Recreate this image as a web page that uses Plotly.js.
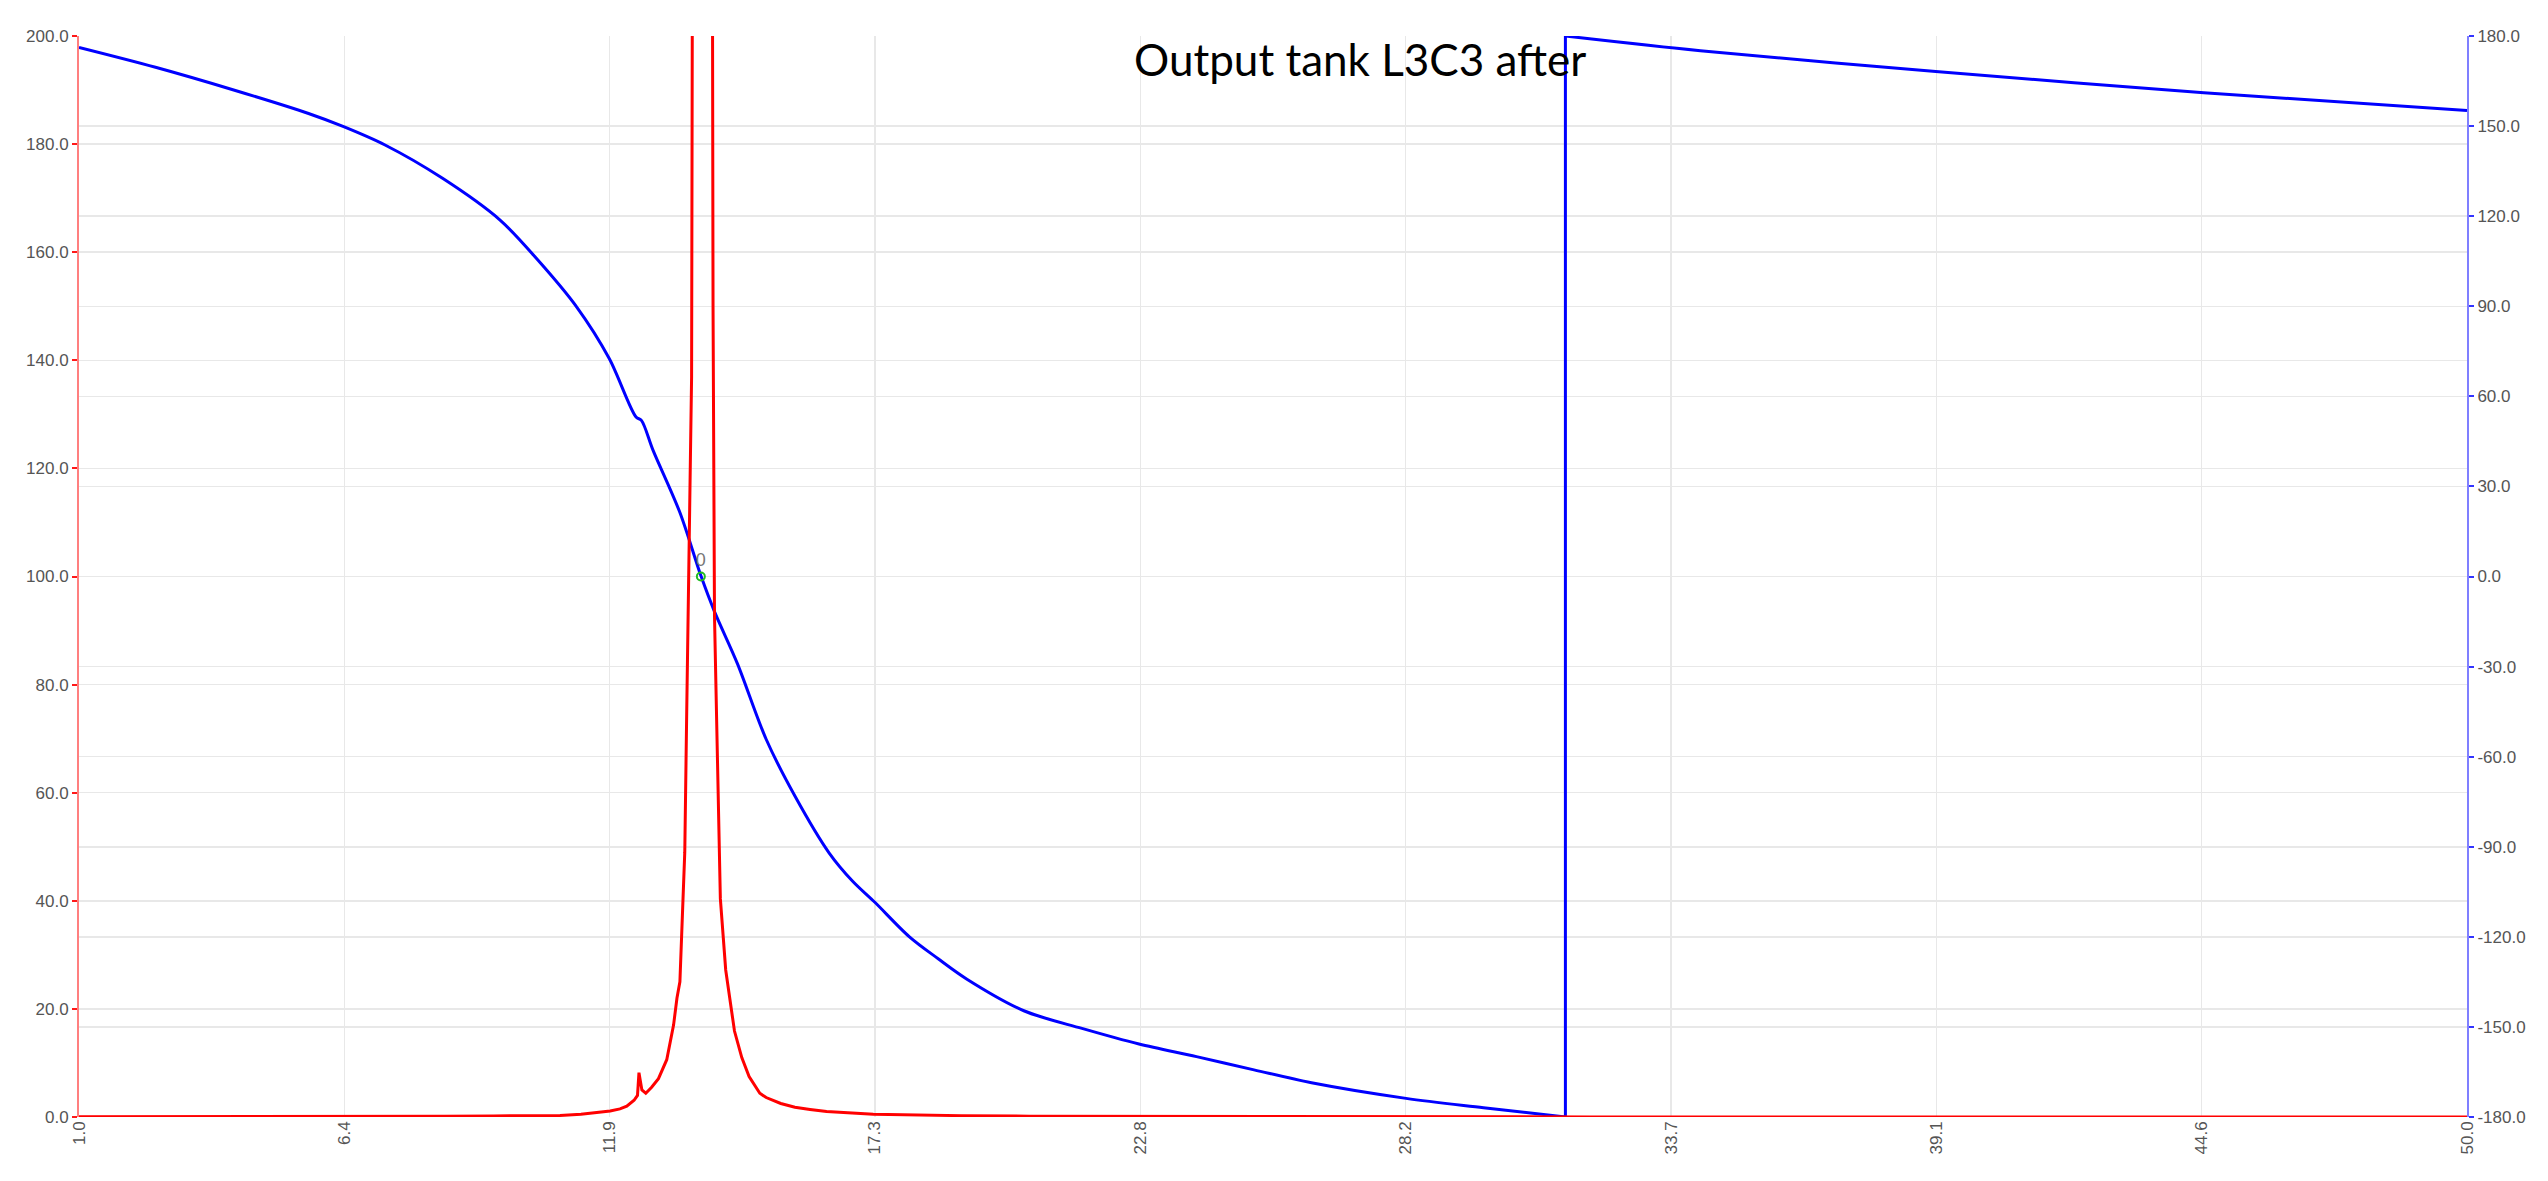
<!DOCTYPE html>
<html>
<head>
<meta charset="utf-8">
<script src="https://cdn.plot.ly/plotly-3.0.1.min.js"></script>
<style>html,body{margin:0;padding:0;background:#fff;}#chart{width:2548px;height:1181px;}</style>
</head>
<body>
<div id="chart"></div>
<script>
// Frequency axis (x)
const xTickVals = [1.0, 6.444, 11.889, 17.333, 22.778, 28.222, 33.667, 39.111, 44.556, 50.0];
const xTickText = ['1.0', '6.4', '11.9', '17.3', '22.8', '28.2', '33.7', '39.1', '44.6', '50.0'];

// Left axis (magnitude) ticks
const magTickVals = [0, 20, 40, 60, 80, 100, 120, 140, 160, 180, 200];
const magTickText = ['0.0', '20.0', '40.0', '60.0', '80.0', '100.0', '120.0', '140.0', '160.0', '180.0', '200.0'];

// Right axis (phase) ticks
const phaseTickVals = [-180, -150, -120, -90, -60, -30, 0, 30, 60, 90, 120, 150, 180];
const phaseTickText = ['-180.0', '-150.0', '-120.0', '-90.0', '-60.0', '-30.0', '0.0', '30.0', '60.0', '90.0', '120.0', '150.0', '180.0'];

// Magnitude series (red, left axis)
const magX = [1.0, 3.0, 5.0, 7.0, 8.5, 9.5, 10.3, 10.87, 11.3, 11.69, 11.9, 12.1, 12.24, 12.39, 12.46, 12.49, 12.55, 12.63, 12.75, 12.89, 13.06, 13.2, 13.27, 13.33, 13.39, 13.43, 13.47, 13.51, 13.54, 13.57, 13.8, 14.01, 14.04, 14.11, 14.16, 14.27, 14.45, 14.6, 14.75, 14.97, 15.1, 15.4, 15.69, 16.0, 16.34, 17.3, 18.2, 19.1, 20.5, 22.8, 25.0, 28.0, 32.0, 38.0, 44.0, 50.0];
const magY = [0.05, 0.05, 0.08, 0.1, 0.15, 0.2, 0.3, 0.3, 0.5, 0.9, 1.1, 1.5, 2.0, 3.1, 4.0, 8.2, 5.0, 4.4, 5.5, 7.1, 10.6, 17.0, 22.0, 25.0, 38.6, 49.0, 75.0, 101.0, 123.0, 137.0, 1200.0, 150.0, 92.6, 57.8, 40.4, 27.2, 15.9, 11.0, 7.5, 4.4, 3.6, 2.5, 1.8, 1.4, 1.0, 0.5, 0.35, 0.25, 0.15, 0.1, 0.05, 0.03, 0.02, 0.01, 0.01, 0.01];

// Phase series (blue, right axis) — wraps from -180 to +180 at x = 31.5
const phaseX = [1.0, 2.57, 4.14, 5.71, 6.43, 7.28, 8.46, 9.64, 10.42, 11.21, 11.88, 12.43, 12.54, 12.78, 13.33, 13.76, 14.04, 14.51, 15.10, 15.69, 16.39, 16.87, 17.33, 18.04, 18.63, 19.22, 20.40, 21.58, 22.75, 23.93, 25.11, 26.29, 28.23, 29.82, 31.5, 31.5, 34.27, 39.1, 44.6, 50.0];
const phaseY = [176.2, 169.6, 162.2, 154.2, 149.8, 143.7, 132.6, 118.7, 105.3, 89.8, 72.6, 53.1, 52.0, 42.0, 21.3, 0.3, -11.7, -29.0, -54.2, -73.1, -92.0, -101.4, -108.5, -120.0, -127.3, -134.1, -144.7, -150.5, -155.7, -159.9, -164.3, -168.6, -173.8, -176.9, -180.0, 180.0, 175.1, 168.2, 161.1, 155.2];

// Zero-phase marker
const markerX = [13.76];
const markerY = [0];
const markerLabel = ['0'];

const titleText = 'Output tank L3C3 after';

// split phase at the wrap (where consecutive x values are equal)
let wrap = 0;
for (let i = 1; i < phaseX.length; i++) { if (phaseX[i] === phaseX[i - 1]) { wrap = i; break; } }

const tickFont = {family: 'Liberation Sans, Arial, sans-serif', size: 17, color: '#555555'};
const blueLine = {color: '#0000ff', width: 3};

const traces = [
  {x: phaseX.slice(0, wrap), y: phaseY.slice(0, wrap), type: 'scatter', mode: 'lines', yaxis: 'y',
   line: Object.assign({shape: 'spline', smoothing: 0.9}, blueLine), hoverinfo: 'skip', showlegend: false},
  {x: phaseX.slice(wrap - 1, wrap + 1), y: phaseY.slice(wrap - 1, wrap + 1), type: 'scatter', mode: 'lines', yaxis: 'y',
   line: blueLine, hoverinfo: 'skip', showlegend: false},
  {x: phaseX.slice(wrap), y: phaseY.slice(wrap), type: 'scatter', mode: 'lines', yaxis: 'y',
   line: Object.assign({shape: 'spline', smoothing: 0.9}, blueLine), hoverinfo: 'skip', showlegend: false},
  {x: markerX, y: markerY, type: 'scatter', mode: 'markers+text', yaxis: 'y',
   text: markerLabel, textposition: 'top center',
   textfont: {family: 'Liberation Sans, Arial, sans-serif', size: 18, color: '#777777'},
   marker: {symbol: 'circle-open', size: 8, color: '#22bb22', line: {width: 2, color: '#22bb22'}},
   hoverinfo: 'skip', showlegend: false},
  {x: magX, y: magY, type: 'scatter', mode: 'lines', yaxis: 'y2',
   line: {color: '#ff0000', width: 3}, hoverinfo: 'skip', showlegend: false}
];

const layout = {
  width: 2548, height: 1181,
  margin: {l: 79, r: 81, t: 36, b: 64, pad: 0},
  paper_bgcolor: '#ffffff', plot_bgcolor: '#ffffff',
  showlegend: false,
  xaxis: {
    range: [1, 50], tickvals: xTickVals, ticktext: xTickText, tickangle: -90,
    tickfont: tickFont, showgrid: true, gridcolor: '#e8e8e8', gridwidth: 1.5,
    zeroline: false, showline: false, ticks: ''
  },
  yaxis: {
    range: [-180, 180], side: 'right', tickvals: phaseTickVals, ticktext: phaseTickText,
    tickfont: tickFont, showgrid: true, gridcolor: '#e8e8e8', gridwidth: 1.5,
    zeroline: false, showline: true, linecolor: 'rgba(0,0,255,0.5)', linewidth: 2,
    ticks: 'outside', ticklen: 5, tickwidth: 2, tickcolor: 'rgba(0,0,255,0.8)'
  },
  yaxis2: {
    range: [0, 200], side: 'left', overlaying: 'y', tickvals: magTickVals, ticktext: magTickText,
    tickfont: tickFont, showgrid: true, gridcolor: '#e8e8e8', gridwidth: 1.5,
    zeroline: false, showline: true, linecolor: 'rgba(255,0,0,0.5)', linewidth: 2,
    ticks: 'outside', ticklen: 5, tickwidth: 2, tickcolor: 'rgba(255,0,0,0.9)'
  },
  annotations: [{
    text: titleText, xref: 'paper', yref: 'paper', x: 0.5364, y: 1, xanchor: 'center', yanchor: 'top',
    yshift: 5, showarrow: false, font: {family: 'Lato, sans-serif', size: 44, color: '#000000'}
  }]
};

Plotly.newPlot('chart', traces, layout, {staticPlot: true, displayModeBar: false});
</script>
</body>
</html>
